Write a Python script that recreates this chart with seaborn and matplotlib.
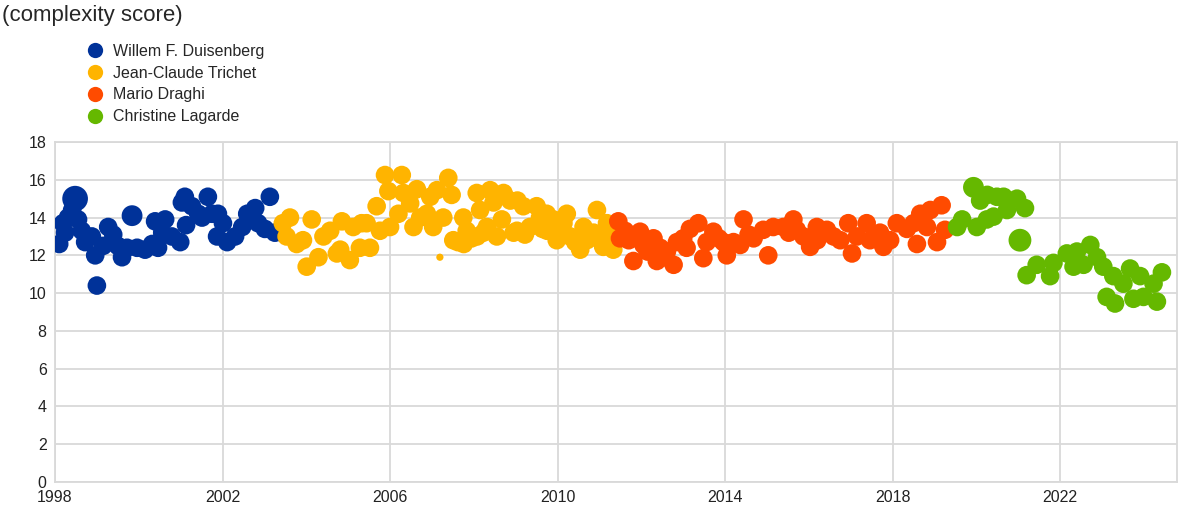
import numpy as np
import pandas as pd
import matplotlib
matplotlib.use("Agg")
import matplotlib.pyplot as plt
from matplotlib.lines import Line2D
import seaborn as sns

# ---------------- data ----------------
presidents = ["Willem F. Duisenberg", "Jean-Claude Trichet", "Mario Draghi", "Christine Lagarde"]
colors = ["#003299", "#FFB400", "#FF4B00", "#65B800"]

duis_date = [1998.10, 1998.19, 1998.24, 1998.31, 1998.41, 1998.48, 1998.55, 1998.64, 1998.72, 1998.88,
             1998.96, 1999.00, 1999.15, 1999.27, 1999.39, 1999.50, 1999.60, 1999.72, 1999.84, 1999.96,
             2000.15, 2000.32, 2000.39, 2000.46, 2000.56, 2000.63, 2000.79, 2000.99, 2001.03, 2001.10,
             2001.13, 2001.27, 2001.42, 2001.51, 2001.65, 2001.75, 2001.87, 2001.89, 2002.01, 2002.11,
             2002.30, 2002.47, 2002.59, 2002.78, 2002.85, 2003.01, 2003.13, 2003.25, 2003.42]
duis_score = [12.6, 13.7, 13.2, 14.0, 14.4, 15.0, 13.9, 13.3, 12.7, 13.0,
              12.0, 10.4, 12.5, 13.5, 13.1, 12.5, 11.9, 12.4, 14.1, 12.4,
              12.3, 12.6, 13.8, 12.4, 13.2, 13.9, 13.0, 12.7, 14.8, 15.1,
              13.6, 14.6, 14.2, 14.0, 15.1, 14.2, 13.0, 14.2, 13.7, 12.7,
              13.0, 13.5, 14.2, 14.5, 13.7, 13.4, 15.1, 13.2, 13.2]
duis_len = [1.0] * len(duis_date)
duis_len[5] = 1.9
duis_len[18] = 1.25

tri_date = [2003.44, 2003.53, 2003.61, 2003.77, 2003.92, 2004.01, 2004.13, 2004.29, 2004.41, 2004.57,
            2004.73, 2004.81, 2004.85, 2005.04, 2005.12, 2005.28, 2005.32, 2005.44, 2005.52, 2005.68,
            2005.76, 2005.88, 2005.96, 2006.00, 2006.20, 2006.28, 2006.32, 2006.48, 2006.56, 2006.64,
            2006.72, 2006.88, 2006.96, 2007.03, 2007.12, 2007.19, 2007.27, 2007.39, 2007.47, 2007.51,
            2007.62, 2007.75, 2007.76, 2007.83, 2007.95, 2008.07, 2008.08, 2008.15, 2008.23, 2008.31,
            2008.39, 2008.47, 2008.55, 2008.67, 2008.71, 2008.87, 2008.95, 2009.03, 2009.04, 2009.18,
            2009.22, 2009.34, 2009.50, 2009.58, 2009.64, 2009.74, 2009.75, 2009.90, 2009.98, 2010.06,
            2010.14, 2010.22, 2010.30, 2010.42, 2010.54, 2010.62, 2010.70, 2010.78, 2010.86, 2010.94,
            2011.02, 2011.09, 2011.18, 2011.26, 2011.33]
tri_score = [13.7, 13.0, 14.0, 12.6, 12.8, 11.4, 13.9, 11.9, 13.0, 13.3,
             12.1, 12.3, 13.8, 11.75, 13.5, 12.4, 13.7, 13.7, 12.4, 14.6,
             13.3, 16.25, 15.4, 13.5, 14.2, 16.25, 15.3, 14.75, 13.5, 15.5,
             14.0, 14.2, 15.1, 13.5, 15.45, 11.9, 14.0, 16.1, 15.2, 12.8,
             12.7, 14.0, 12.6, 13.3, 12.9, 15.3, 13.0, 14.4, 13.2, 13.5,
             15.45, 14.8, 13.0, 13.9, 15.3, 14.9, 13.2, 13.3, 14.9, 14.6,
             13.1, 13.5, 14.6, 14.0, 13.4, 14.2, 13.3, 13.9, 12.8, 13.2,
             13.7, 14.2, 13.0, 12.7, 12.3, 13.5, 12.8, 13.0, 13.2, 14.4,
             12.8, 12.45, 13.7, 13.0, 12.3]
tri_len = [1.0] * len(tri_date)
tri_len[35] = 0.15

dra_date = [2011.45, 2011.49, 2011.61, 2011.70, 2011.81, 2011.97, 2012.05, 2012.15, 2012.29, 2012.37,
            2012.45, 2012.53, 2012.61, 2012.77, 2012.85, 2013.00, 2013.08, 2013.16, 2013.36, 2013.48,
            2013.56, 2013.72, 2013.85, 2013.96, 2014.04, 2014.20, 2014.36, 2014.44, 2014.56, 2014.68,
            2014.91, 2015.03, 2015.15, 2015.39, 2015.52, 2015.63, 2015.71, 2015.87, 2016.03, 2016.19,
            2016.20, 2016.43, 2016.59, 2016.75, 2016.94, 2017.03, 2017.15, 2017.38, 2017.46, 2017.70,
            2017.78, 2017.94, 2018.10, 2018.34, 2018.50, 2018.58, 2018.66, 2018.82, 2018.90, 2019.06,
            2019.17, 2019.25]
dra_score = [13.8, 12.9, 13.3, 12.8, 11.7, 13.25, 12.55, 12.2, 12.9, 11.7,
             12.4, 11.9, 12.2, 11.5, 12.7, 12.9, 12.4, 13.4, 13.7, 11.85,
             12.7, 13.25, 12.9, 12.7, 12.0, 12.7, 12.55, 13.9, 13.1, 12.9,
             13.35, 12.0, 13.5, 13.5, 13.2, 13.9, 13.35, 13.0, 12.45, 13.5,
             12.8, 13.35, 13.0, 12.8, 13.7, 12.1, 13.0, 13.7, 12.8, 13.2,
             12.45, 12.8, 13.7, 13.4, 13.7, 12.6, 14.2, 13.5, 14.4, 12.7,
             14.65, 13.35]
dra_len = [1.0] * len(dra_date)

lag_date = [2019.54, 2019.66, 2019.93, 2020.01, 2020.09, 2020.25, 2020.26, 2020.41, 2020.49, 2020.65,
            2020.73, 2020.97, 2021.04, 2021.16, 2021.20, 2021.44, 2021.76, 2021.84, 2022.16, 2022.32,
            2022.40, 2022.56, 2022.72, 2022.88, 2023.03, 2023.11, 2023.27, 2023.31, 2023.51, 2023.67,
            2023.75, 2023.91, 2023.99, 2024.23, 2024.31, 2024.43]
lag_score = [13.5, 13.9, 15.6, 13.5, 14.9, 13.9, 15.2, 14.05, 15.1, 15.1,
             14.4, 15.0, 12.8, 14.5, 10.95, 11.5, 10.9, 11.6, 12.1, 11.4,
             12.2, 11.5, 12.55, 11.9, 11.4, 9.8, 10.9, 9.45, 10.5, 11.3,
             9.7, 10.9, 9.8, 10.5, 9.55, 11.1]
lag_len = [1.0] * len(lag_date)
lag_len[2] = 1.25
lag_len[12] = 1.5

x_ticks = [1998, 2002, 2006, 2010, 2014, 2018, 2022]
y_ticks = [0, 2, 4, 6, 8, 10, 12, 14, 16, 18]

# ---------------- frame ----------------
frames = []
for name, d, s, l in zip(presidents,
                         [duis_date, tri_date, dra_date, lag_date],
                         [duis_score, tri_score, dra_score, lag_score],
                         [duis_len, tri_len, dra_len, lag_len]):
    frames.append(pd.DataFrame({"date": d, "score": s, "length": l, "president": name}))
df = pd.concat(frames, ignore_index=True)

# ---------------- plot ----------------
sns.set_theme(style="white")
plt.rcParams["font.family"] = ["Liberation Sans", "DejaVu Sans"]

fig = plt.figure(figsize=(11.79, 5.17), dpi=100)
ax = fig.add_axes([55 / 1179, 1 - 482 / 517, (1177 - 55) / 1179, (482 - 142) / 517])

sns.scatterplot(data=df, x="date", y="score", hue="president", palette=colors,
                hue_order=presidents, size="length", sizes=(18, 360), size_norm=(0.1, 2.0),
                linewidth=0, alpha=1, legend=False, ax=ax, zorder=3)

ax.set_xlim(1998, 2024.79)
ax.set_ylim(0, 18)
ax.set_xticks(x_ticks)
ax.set_yticks(y_ticks)
ax.set_xlabel("")
ax.set_ylabel("")
ax.grid(True, color="#d9d9d9", linewidth=1.3, zorder=0)
ax.set_axisbelow(True)
for sp in ax.spines.values():
    sp.set_color("#d9d9d9")
    sp.set_linewidth(1.3)
ax.tick_params(axis="both", length=0, labelsize=11.5, colors="#222222", pad=6)

fig.text(0.002, 1 - 16 / 517, "(complexity score)", fontsize=16, va="center", ha="left")

handles = [Line2D([0], [0], marker="o", linestyle="none", markersize=11,
                  markerfacecolor=c, markeredgewidth=0) for c in colors]
fig.legend(handles, presidents, loc="upper left", bbox_to_anchor=(85 / 1179, 1 - 44 / 517),
           frameon=False, fontsize=11.5, handletextpad=0.55, labelspacing=0.42,
           borderaxespad=0, borderpad=0, handlelength=1.2)

fig.savefig("out.png", dpi=100)
